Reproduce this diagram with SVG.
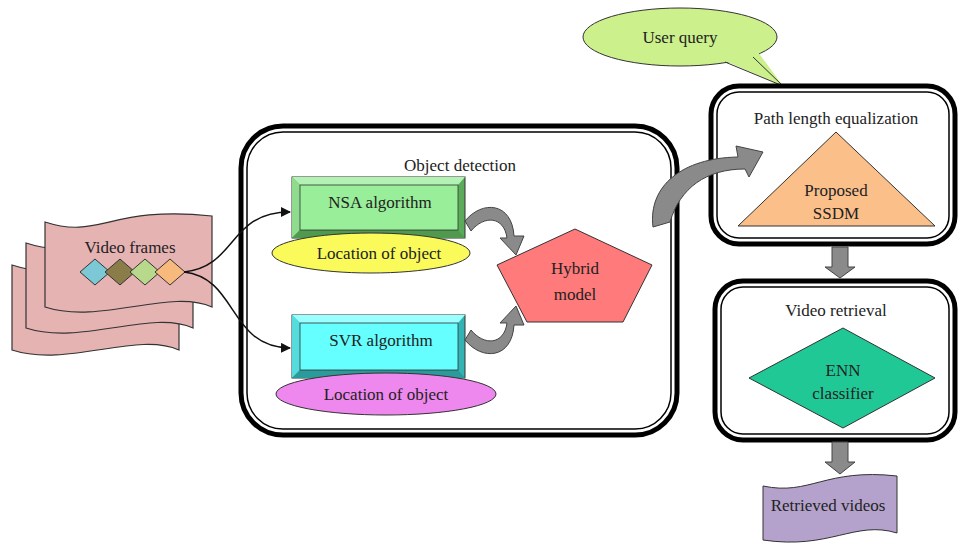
<svg xmlns="http://www.w3.org/2000/svg" width="960" height="546" viewBox="0 0 960 546">
<style>
text{font-family:"Liberation Serif","Times New Roman",serif;font-size:17px;fill:#222;text-anchor:middle}
.outer{fill:#fff;stroke:#000;stroke-width:5}
.inner{fill:none;stroke:#000;stroke-width:1.5}
.flag{fill:#e6b3b3;stroke:#333;stroke-width:1.2}
.ga{fill:#8a8a8a;stroke:#444;stroke-width:1}
.conn{fill:none;stroke:#111;stroke-width:1.5}
.sh{stroke:#333;stroke-width:1}
</style>
<defs>
<marker id="ah" viewBox="0 0 10 10" refX="9" refY="5" markerWidth="10" markerHeight="10" markerUnits="userSpaceOnUse" orient="auto"><path d="M0,0 L10,5 L0,10 Z" fill="#111"/></marker>
<path id="flagp" d="M45,222 C100,240 110,205 212,216 L212,307 C170,288 100,325 45,307 Z"/>
</defs>
<rect width="960" height="546" fill="#fff"/>

<g id="video-frames">
<use href="#flagp" class="flag" transform="translate(-33,43)"/>
<use href="#flagp" class="flag" transform="translate(-19,21)"/>
<use href="#flagp" class="flag"/>
<text x="130" y="253">Video frames</text>
<path class="sh" d="M80,272 L95,259 L110,272 L95,285 Z" fill="#7cc8d6"/>
<path class="sh" d="M105,272 L120,259 L135,272 L120,285 Z" fill="#8b7d4a"/>
<path class="sh" d="M130,272 L145,259 L160,272 L145,285 Z" fill="#b8d98c"/>
<path class="sh" d="M155,272 L170,259 L185,272 L170,285 Z" fill="#f8b97c"/>
</g>

<g id="object-detection">
<rect class="outer" x="241" y="126" width="436" height="309" rx="42"/>
<rect class="inner" x="247" y="132" width="424" height="297" rx="36"/>
<text x="460" y="171">Object detection</text>
</g>

<g id="nsa">
<rect x="292" y="177" width="173" height="61" fill="#5aac5a" stroke="#333" stroke-width="1"/>
<path d="M292,177 L465,177 L458,185 L300,185 Z" fill="#b2f2b2"/>
<path d="M292,177 L300,185 L300,230 L292,238 Z" fill="#8fdc8f"/>
<path d="M292,238 L300,230 L458,230 L465,238 Z" fill="#4f9a4f"/>
<rect x="300" y="185" width="158" height="45" fill="#99ee99" stroke="#333" stroke-width="0.8"/>
<text x="380" y="208">NSA algorithm</text>
</g>
<g id="loc1">
<ellipse class="sh" cx="371" cy="253" rx="99" ry="20" fill="#fafa5a"/>
<text x="379" y="259">Location of object</text>
</g>

<g id="svr">
<rect x="292" y="315" width="173" height="63" fill="#33b3b3" stroke="#333" stroke-width="1"/>
<path d="M292,315 L465,315 L458,323 L300,323 Z" fill="#99ffff"/>
<path d="M292,315 L300,323 L300,370 L292,378 Z" fill="#55dddd"/>
<path d="M292,378 L300,370 L458,370 L465,378 Z" fill="#2a9a9a"/>
<rect x="300" y="323" width="158" height="47" fill="#66ffff" stroke="#333" stroke-width="0.8"/>
<text x="381" y="346">SVR algorithm</text>
</g>
<g id="loc2">
<ellipse class="sh" cx="386" cy="394" rx="110" ry="21" fill="#ee88ee"/>
<text x="386" y="400">Location of object</text>
</g>

<g id="hybrid">
<path class="sh" d="M575,229 L652,265 L623,322 L527,322 L497,265 Z" fill="#ff7a7a"/>
<text x="575" y="274">Hybrid</text>
<text x="575" y="300">model</text>
</g>

<g id="user-query">
<ellipse cx="680" cy="37" rx="97" ry="29" fill="#ccf08c" stroke="#333" stroke-width="1"/>
<path d="M718,58 L783,86 L758,52 Z" fill="#ccf08c"/>
<polyline points="725,62 783,86 753,57" fill="none" stroke="#333" stroke-width="1"/>
<text x="680" y="43">User query</text>
</g>

<g id="path-length">
<rect class="outer" x="711" y="86" width="244" height="158" rx="28"/>
<rect class="inner" x="717" y="92" width="232" height="146" rx="22"/>
<text x="836" y="124">Path length equalization</text>
<path class="sh" d="M836,132 L935,226 L738,226 Z" fill="#fbbf8a"/>
<text x="836" y="196">Proposed</text>
<text x="836" y="219">SSDM</text>
</g>

<g id="video-retrieval">
<rect class="outer" x="715" y="281" width="240" height="159" rx="28"/>
<rect class="inner" x="721" y="287" width="228" height="147" rx="22"/>
<text x="836" y="316">Video retrieval</text>
<path class="sh" d="M843,328 L935,378 L843,428 L749,378 Z" fill="#20c896"/>
<text x="843" y="376">ENN</text>
<text x="843" y="399">classifier</text>
</g>

<g id="retrieved-videos">
<path d="M763,486 C810,496 825,468 897,476 L897,533 C855,520 830,550 763,540 Z" fill="#b4a2cc" stroke="#333" stroke-width="1"/>
<text x="828" y="511">Retrieved videos</text>
</g>

<g id="connectors">
<path class="conn" d="M184,272 C238,266 228,212 290,212" marker-end="url(#ah)"/>
<path class="conn" d="M184,272 C238,278 228,347 290,348" marker-end="url(#ah)"/>
<path class="ga" d="M465,221 C482,200 512,202 514,236 L524,236 L516,255 L500,238 L507,238 C504,216 484,215 471,231 Z"/>
<path class="ga" transform="translate(0,561) scale(1,-1)" d="M465,221 C482,200 512,202 514,236 L524,236 L516,255 L500,238 L507,238 C504,216 484,215 471,231 Z"/>
<path class="ga" d="M653,227 C648,186 682,158 738,157 L736,146 L763,152 L749,177 L745,169 C706,169 680,188 670,222 Z"/>
<path class="ga" d="M832,247 L848,247 L848,267 L855,267 L840,278 L825,267 L832,267 Z"/>
<path class="ga" d="M832,442 L848,442 L848,462 L855,462 L840,474 L825,462 L832,462 Z"/>
</g>
</svg>
